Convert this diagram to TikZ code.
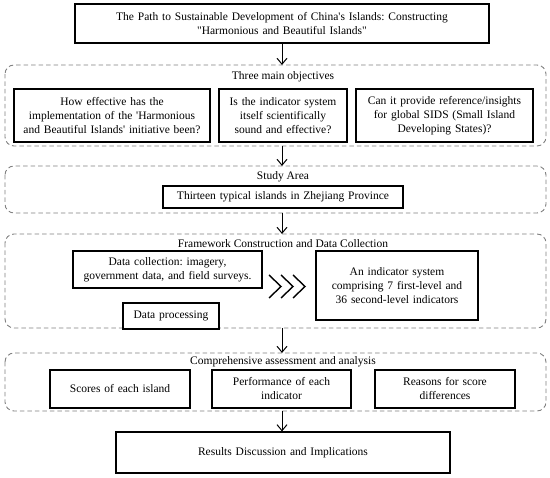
\documentclass[tikz,border=0pt]{standalone}
\usepackage{fontspec}
\setmainfont{Liberation Serif}[Ligatures=TeXOff]
\frenchspacing
\usetikzlibrary{arrows.meta}
\begin{document}
\begin{tikzpicture}[x=1pt,y=-1pt,
  box/.style={draw=black,line width=1.1pt,fill=white,align=center,inner sep=0pt,
    font=\fontsize{11.5}{14}\selectfont},
  group/.style={draw=black!50,line width=0.9pt,dash pattern=on 4.5pt off 3pt,rounded corners=9pt},
  gtitle/.style={inner sep=0pt,font=\fontsize{11.5}{14}\selectfont},
  flow/.style={line width=1pt,-{Straight Barb[length=6pt,width=10pt,line width=1pt]}},
  chev/.style={line width=1.4pt}]
\useasboundingbox (0,0) rectangle (550,478);
\newcommand{\bx}[6]{\node[box,minimum width=#3-#1,minimum height=#4-#2,text width=#3-#1-4pt] (#5) at ({(#1+#3)/2},{(#2+#4)/2}) {#6};}
% dashed groups
\draw[group] (5,65) rectangle (546,146);
\draw[group] (5,166) rectangle (546,213);
\draw[group] (5,234) rectangle (546,328);
\draw[group] (5,353) rectangle (546,411);
\coordinate (g1t) at (282,65); \coordinate (g1b) at (282,146);
\coordinate (g2t) at (282,166); \coordinate (g2b) at (282,213);
\coordinate (g3t) at (282,234); \coordinate (g3b) at (282,328);
\coordinate (g4t) at (282,353); \coordinate (g4b) at (282,411);
\node[gtitle] (t1) at (283,77) {Three main objectives};
\node[gtitle] (t2) at (283,177) {Study Area};
\node[gtitle] (t3) at (283,244) {Framework Construction and Data Collection};
\node[gtitle] (t4) at (283,362) {Comprehensive assessment and analysis};
% boxes
\bx{75}{4}{489}{43}{top}{The Path to Sustainable Development of China's Islands: Constructing\\ "Harmonious and Beautiful Islands"}
\bx{14}{89}{210}{142}{q1}{How effective has the\\ implementation of the 'Harmonious\\ and Beautiful Islands' initiative been?}
\bx{219}{89}{347}{142}{q2}{Is the indicator system\\ itself scientifically\\ sound and effective?}
\bx{356}{89}{533}{142}{q3}{Can it provide reference/insights\\ for global SIDS (Small Island\\ Developing States)?}
\bx{163}{186}{403}{208}{area}{Thirteen typical islands in Zhejiang Province}
\bx{73}{251}{262}{288}{dc}{Data collection: imagery,\\ government data, and field surveys.}
\bx{123}{303}{219}{329}{dp}{Data processing}
\bx{316}{251}{478}{320}{ind}{An indicator system\\ comprising 7 first-level and\\ 36 second-level indicators}
\bx{50}{370}{190}{408}{s1}{Scores of each island}
\bx{212}{370}{351}{408}{s2}{Performance of each\\ indicator}
\bx{375}{370}{515}{408}{s3}{Reasons for score\\ differences}
\bx{116}{432}{450}{473}{res}{Results Discussion and Implications}
% chevrons
\foreach \dx in {0,12,24}{
  \draw[chev] (269+\dx,275) -- (281+\dx,286.5) -- (269+\dx,298);
}
% arrows
\draw[flow] (top.south -| g1t) -- (g1t);
\draw[flow] (g1b) -- (g2t);
\draw[flow] (g2b) -- (g3t);
\draw[flow] (g3b) -- (g4t);
\draw[flow] (g4b) -- (res.north -| g4b);
\end{tikzpicture}
\end{document}
